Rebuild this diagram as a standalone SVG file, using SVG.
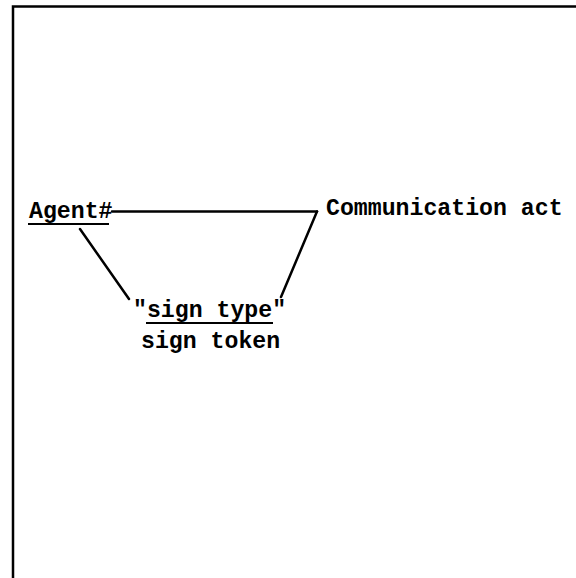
<svg xmlns="http://www.w3.org/2000/svg" width="576" height="578" viewBox="0 0 576 578">
  <style>
    .lbl { font-family: "Liberation Mono", "DejaVu Sans Mono", monospace; font-size: 23.2px; font-weight: bold; fill: #000; }
    .edge { stroke: #000; stroke-width: 2.5; fill: none; stroke-linecap: round; }
    .ul { stroke: #000; stroke-width: 2; }
  </style>
  <rect width="576" height="578" fill="#fff"/>
  <!-- frame: open on the right and bottom -->
  <path d="M13,578 V6.5 H576" stroke="#000" stroke-width="2.5" fill="none"/>

  <g id="connectors">
    <line class="edge" x1="112" y1="211.5" x2="317" y2="211.5"/>
    <line class="edge" x1="317" y1="211.5" x2="281" y2="297"/>
    <line class="edge" x1="80" y1="229" x2="129" y2="299"/>
  </g>

  <g id="agent">
    <text class="lbl" x="29" y="218">Agent#</text>
    <line class="ul" x1="28" y1="224" x2="109" y2="224"/>
  </g>

  <g id="communication-act">
    <text class="lbl" x="326" y="215">Communication act</text>
  </g>

  <g id="sign">
    <text class="lbl" x="133" y="317">"sign type"</text>
    <line class="ul" x1="146" y1="323" x2="273" y2="323"/>
    <text class="lbl" x="141" y="348">sign token</text>
  </g>
</svg>
